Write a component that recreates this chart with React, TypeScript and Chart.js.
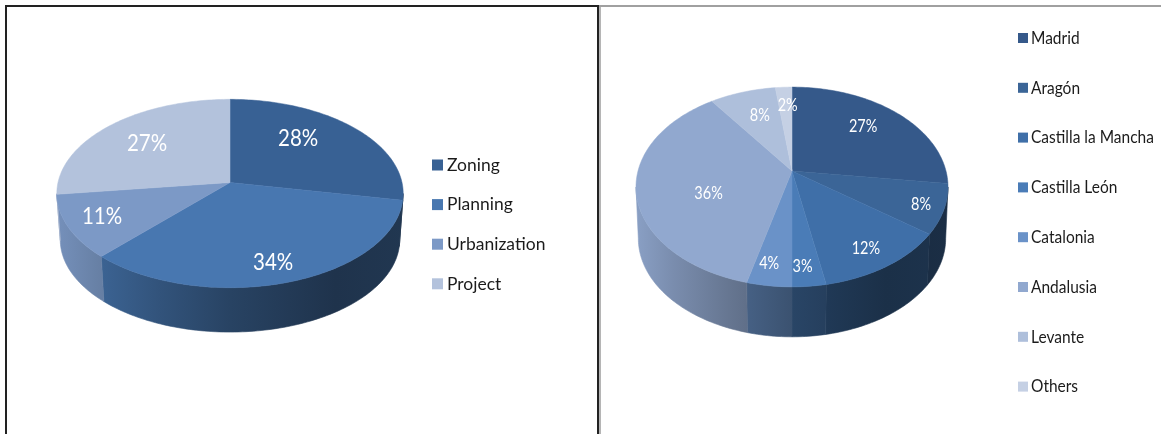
import React, { useEffect, useRef } from "react";
import { Chart, registerables } from "chart.js";

Chart.register(...registerables);

// Project phases
const phaseLabels = ["Zoning", "Planning", "Urbanization", "Project"];
const phaseShares = [28, 34, 11, 27];
const phaseColors = ["#386194", "#4877b0", "#7c99c6", "#b3c2dc"];

// Regions
const regionLabels = [
  "Madrid",
  "Aragón",
  "Castilla la Mancha",
  "Castilla León",
  "Catalonia",
  "Andalusia",
  "Levante",
  "Others",
];
const regionShares = [27, 8, 12, 3, 4, 36, 8, 2];
const regionColors = [
  "#35598a",
  "#3b6597",
  "#3f6fa8",
  "#4a7cb7",
  "#6a92c8",
  "#91a8cf",
  "#aebfdb",
  "#c5d0e4",
];

type PieLook = {
  cx: number;
  cy: number;
  radius: number;
  tilt: number;
  perspective: number;
  depth: number;
  baseScale: number;
  labelFont: string;
  labelStretch: number;
  labelNudges: number[][];
  legendX: number;
  legendY: number;
  legendStep: number;
  legendBox: number;
  legendGap: number;
  legendFont: string;
  legendStretch: number;
};

const wallStops = [
  [0, 0.95],
  [0.12, 0.84],
  [0.3, 0.7],
  [0.5, 0.56],
  [0.8, 0.43],
  [1, 0.46],
];

function shade(hex: string, f: number) {
  const n = parseInt(hex.slice(1), 16);
  const c = [(n >> 16) & 255, (n >> 8) & 255, n & 255].map((v) => Math.round(v * f));
  return `rgb(${c[0]},${c[1]},${c[2]})`;
}

// Perspective projection of a point on the unit disc onto the canvas.
function project(look: PieLook, r: number, x: number, y: number, fx: number, fy: number) {
  const w = 1 + look.perspective * fy;
  return [x + (r * fx) / w, y + (r * look.tilt * fy) / w];
}

// Text drawn taller than the font's natural proportions.
function tallText(ctx: CanvasRenderingContext2D, text: string, x: number, y: number, stretch: number) {
  ctx.save();
  ctx.translate(x, y);
  ctx.scale(1, stretch);
  ctx.fillText(text, 0, 0);
  ctx.restore();
}

const pie3d = {
  id: "pie3d",
  afterLayout(chart: any, _a: any, look: PieLook) {
    const { cx, cy, radius } = look;
    const area = chart.chartArea;
    area.left = cx - radius;
    area.right = cx + radius;
    area.top = cy - radius;
    area.bottom = cy + radius;
    area.width = radius * 2;
    area.height = radius * 2;
  },
  beforeDatasetDraw(chart: any, args: any, look: PieLook) {
    const ctx = chart.ctx;
    const arcs = args.meta.data;
    const colors = chart.data.datasets[0].backgroundColor;
    const trace = (arc: any, from: number, to: number, scale: number, dy: number) => {
      const pts: number[][] = [];
      const steps = Math.max(2, Math.ceil((to - from) / 0.02));
      for (let i = 0; i <= steps; i++) {
        const t = from + ((to - from) * i) / steps;
        pts.push(project(look, arc.outerRadius * scale, arc.x, arc.y + dy, Math.cos(t), Math.sin(t)));
      }
      return pts;
    };

    // Front wall of each slice, between the two points where the rim is widest
    const reach = look.radius * 1.02;
    const tangent = Math.asin(-look.perspective);
    arcs.forEach((arc: any, i: number) => {
      const from = Math.max(arc.startAngle, tangent);
      const to = Math.min(arc.endAngle, Math.PI - tangent);
      if (to <= from) return;
      const upper = trace(arc, from, to, 1, 0);
      const lower = trace(arc, from, to, look.baseScale, look.depth).reverse();
      const g = ctx.createLinearGradient(arc.x - reach, 0, arc.x + reach, 0);
      wallStops.forEach(([t, f]) => g.addColorStop(t, shade(colors[i], f)));
      ctx.beginPath();
      [...upper, ...lower].forEach(([x, y], k) => (k ? ctx.lineTo(x, y) : ctx.moveTo(x, y)));
      ctx.closePath();
      ctx.fillStyle = g;
      ctx.strokeStyle = g;
      ctx.lineWidth = 0.6;
      ctx.fill();
      ctx.stroke();
    });

    // Top face of each slice, meeting at the projected centre
    arcs.forEach((arc: any, i: number) => {
      const rim = trace(arc, arc.startAngle, arc.endAngle, 1, 0);
      ctx.beginPath();
      ctx.moveTo(arc.x, arc.y);
      rim.forEach(([x, y]) => ctx.lineTo(x, y));
      ctx.closePath();
      ctx.fillStyle = colors[i];
      ctx.strokeStyle = colors[i];
      ctx.lineWidth = 0.5;
      ctx.fill();
      ctx.stroke();
    });
    return false;
  },
  afterDatasetsDraw(chart: any, _a: any, look: PieLook) {
    const ctx = chart.ctx;
    const values = chart.data.datasets[0].data;
    ctx.save();
    ctx.textAlign = "center";
    ctx.textBaseline = "middle";
    ctx.fillStyle = "#ffffff";
    ctx.font = look.labelFont;
    chart.getDatasetMeta(0).data.forEach((arc: any, i: number) => {
      const mid = (arc.startAngle + arc.endAngle) / 2;
      const [x, y] = project(
        look,
        arc.outerRadius,
        arc.x,
        arc.y,
        Math.cos(mid) * 0.6,
        Math.sin(mid) * 0.6,
      );
      const [dx, dy] = look.labelNudges[i];
      tallText(ctx, `${values[i]}%`, x + dx, y + dy, look.labelStretch);
    });
    ctx.restore();
  },
  afterDraw(chart: any, _a: any, look: PieLook) {
    const ctx = chart.ctx;
    const colors = chart.data.datasets[0].backgroundColor;
    ctx.save();
    ctx.font = look.legendFont;
    ctx.textAlign = "left";
    ctx.textBaseline = "middle";
    chart.data.labels.forEach((label: string, i: number) => {
      const y = look.legendY + i * look.legendStep;
      ctx.fillStyle = colors[i];
      ctx.fillRect(look.legendX, y - look.legendBox / 2, look.legendBox, look.legendBox);
      ctx.fillStyle = "#1b1b1b";
      tallText(ctx, label, look.legendX + look.legendBox + look.legendGap, y, look.legendStretch);
    });
    ctx.restore();
  },
};

const phaseLook: PieLook = {
  cx: 230,
  cy: 182.5,
  radius: 172,
  tilt: 0.54,
  perspective: -0.117,
  depth: 46.5,
  baseScale: 0.98,
  labelFont: "20.5px Lato",
  labelStretch: 1.12,
  labelNudges: [
    [-8, -10],
    [9, 23],
    [-33, 8],
    [-9, -4],
  ],
  legendX: 432,
  legendY: 165,
  legendStep: 39.6,
  legendBox: 11,
  legendGap: 4,
  legendFont: "17.5px Lato",
  legendStretch: 1.04,
};

const regionLook: PieLook = {
  cx: 192,
  cy: 171,
  radius: 154,
  tilt: 0.632,
  perspective: -0.16,
  depth: 51.7,
  baseScale: 0.985,
  labelFont: "14.5px Lato",
  labelStretch: 1.22,
  labelNudges: [
    [6, -8],
    [40, 11],
    [20, 24],
    [1, 31],
    [-10, 28],
    [9, 11],
    [-1, -6],
    [1, -13],
  ],
  legendX: 418,
  legendY: 38,
  legendStep: 49.8,
  legendBox: 10,
  legendGap: 3,
  legendFont: "15.5px Lato",
  legendStretch: 1.16,
};

function Pie3D(props: {
  labels: string[];
  values: number[];
  colors: string[];
  look: PieLook;
  left: number;
  width: number;
}) {
  const ref = useRef<HTMLCanvasElement>(null);
  useEffect(() => {
    const chart = new Chart(ref.current!, {
      type: "pie",
      data: {
        labels: props.labels,
        datasets: [{ data: props.values, backgroundColor: props.colors, borderWidth: 0 }],
      },
      options: {
        responsive: false,
        animation: false,
        events: [],
        plugins: {
          legend: { display: false },
          tooltip: { enabled: false },
          pie3d: props.look,
        } as any,
      },
      plugins: [pie3d as any],
    });
    return () => chart.destroy();
  }, []);
  return (
    <canvas
      ref={ref}
      width={props.width}
      height={434}
      style={{ position: "absolute", left: props.left, top: 0, width: props.width, height: 434 }}
    />
  );
}

const rule = (left: number, top: number, width: number, height: number, background: string) => (
  <div style={{ position: "absolute", left, top, width, height, background }} />
);

export default function App() {
  return (
    <div
      style={{
        position: "fixed",
        left: 0,
        top: 0,
        width: 1161,
        height: 434,
        background: "#ffffff",
        overflow: "hidden",
      }}
    >
      <Pie3D labels={phaseLabels} values={phaseShares} colors={phaseColors} look={phaseLook} left={0} width={597} />
      <Pie3D labels={regionLabels} values={regionShares} colors={regionColors} look={regionLook} left={600} width={561} />
      {rule(5, 5, 593, 2, "#222222")}
      {rule(5, 5, 2, 429, "#222222")}
      {rule(597, 5, 2, 429, "#222222")}
      {rule(599, 5, 2, 429, "#b5b5b5")}
      {rule(599, 5, 562, 2, "#a0a0a0")}
    </div>
  );
}
